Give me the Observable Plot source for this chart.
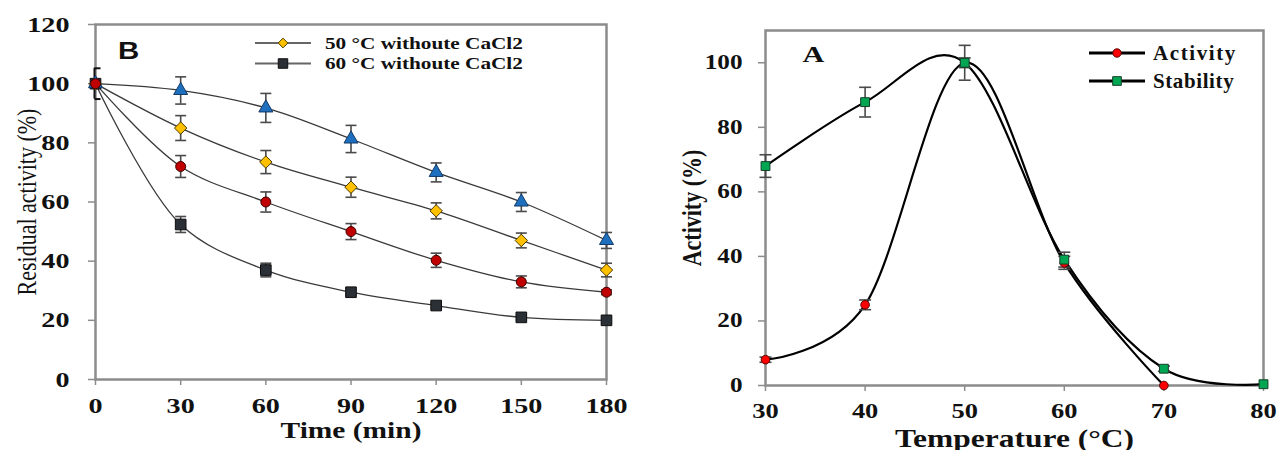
<!DOCTYPE html>
<html>
<head>
<meta charset="utf-8">
<script src="https://cdn.jsdelivr.net/npm/d3@7"></script>
<script src="https://cdn.jsdelivr.net/npm/@observablehq/plot@0.6"></script>
<style>
  html, body { margin: 0; padding: 0; background: #fff; overflow: hidden; }
  #wrap { position: relative; width: 1281px; height: 450px; }
  #left { position: absolute; left: 0; top: 0; }
  #right { position: absolute; left: 640px; top: 0; }
  #legend { position: absolute; left: 0; top: 0; pointer-events: none; }
</style>
</head>
<body>
<div id="wrap">
  <div id="left"></div>
  <div id="right"></div>
  <svg id="legend" width="1281" height="450"></svg>
</div>
<script>
// ---------- Panel B data (left) ----------
const times = [0, 30, 60, 90, 120, 150, 180];
const leftYTicks = [0, 20, 40, 60, 80, 100, 120];
const triangleVals = [100, 97.7, 91.8, 81.3, 70, 60, 47];
const triangleErr  = [5.2, 4.6, 4.9, 4.6, 3.2, 3.2, 2.7];
const diamondVals  = [100, 85, 73.5, 65, 57, 47, 37];
const diamondErr   = [0, 4.2, 3.9, 3.4, 2.7, 2.5, 2.3];
const circleVals   = [100, 72, 60, 50, 40.3, 33, 29.5];
const circleErr    = [0, 3.7, 3.4, 2.7, 2.4, 2, 0.8];
const squareVals   = [100, 52.4, 37, 29.5, 25, 21, 20];
const squareErr    = [0, 2.7, 2.3, 1, 0.8, 0.8, 0.8];
const leftLegend = ["50 °C withoute CaCl2", "60 °C withoute CaCl2"];

// ---------- Panel A data (right) ----------
const temps = [30, 40, 50, 60, 70, 80];
const rightYTicks = [0, 20, 40, 60, 80, 100];
const activityVals = [8, 25, 100, 38, 0];
const activityErr  = [0.8, 1.5, 1.5, 2, 0];
const stabilityVals = [68, 87.8, 100, 39, 5.2, 0.4];
const stabilityErr  = [3.5, 4.6, 5.4, 2.3, 0.8, 0];
const rightLegend = ["Activity", "Stability"];

const rows = (name, xs, ys, es) => ys.map((y, i) => ({series: name, x: xs[i], y, e: es[i]}));

const L = {
  square: rows("square", times, squareVals, squareErr),
  diamond: rows("diamond", times, diamondVals, diamondErr),
  triangle: rows("triangle", times, triangleVals, triangleErr),
  circle: rows("circle", times, circleVals, circleErr)
};
const R = {
  activity: rows("activity", temps, activityVals, activityErr),
  stability: rows("stability", temps, stabilityVals, stabilityErr)
};

const capSym = {draw(ctx, size) { const w = Math.sqrt(size / Math.PI); ctx.moveTo(-w, 0); ctx.lineTo(w, 0); }};
const halfCap = {draw(ctx, size) { const w = Math.sqrt(size / Math.PI); ctx.moveTo(0, 0); ctx.lineTo(w, 0); }};
const capsOf = (arr) => arr.flatMap(d => [{x: d.x, y: d.y + d.e}, {x: d.x, y: d.y - d.e}]);

const serif = "Liberation Serif, Times New Roman, serif";
const gray = "#8c8c8c";
const errC = "#4a4a4a";

// ----- Left plot -----
const allL = Object.values(L).flat();
const errL = allL.filter(d => d.e > 0 && d.x > 0);
const bracket = L.triangle.filter(d => d.x === 0);

const left = Plot.plot({
  width: 640, height: 450,
  marginLeft: 95, marginRight: 34, marginTop: 24, marginBottom: 71,
  x: {domain: [0, 180]},
  y: {domain: [0, 120]},
  style: {background: "transparent", overflow: "visible"},
  marks: [
    Plot.frame({stroke: gray, strokeWidth: 2.5}),
    Plot.axisY({ticks: leftYTicks, tickSize: 7, tickPadding: 19, stroke: gray, strokeWidth: 1.5,
      fill: "#111", fontSize: 22, fontWeight: "bold", fontFamily: serif, label: null}),
    Plot.axisX({ticks: times, tickSize: 6, tickPadding: 12, stroke: gray, strokeWidth: 1.5,
      fill: "#111", fontSize: 22, fontWeight: "bold", fontFamily: serif, label: null}),
    Plot.line(allL, {x: "x", y: "y", z: "series", curve: "catmull-rom", stroke: "#3a3a3a", strokeWidth: 1.3}),
    Plot.ruleX(errL, {x: "x", y1: d => d.y - d.e, y2: d => d.y + d.e, stroke: errC, strokeWidth: 1.6}),
    Plot.dot(capsOf(errL), {x: "x", y: "y", symbol: capSym, r: 5.5, fill: "none", stroke: errC, strokeWidth: 1.6}),
    Plot.ruleX(bracket, {x: "x", y1: d => d.y - d.e, y2: d => d.y + d.e, stroke: "#111", strokeWidth: 2, dx: -1}),
    Plot.dot(capsOf(bracket), {x: "x", y: "y", symbol: halfCap, r: 6, fill: "none", stroke: "#111", strokeWidth: 2, dx: -1}),
    Plot.dot(L.square, {x: "x", y: "y", symbol: "square", r: 6, fill: "#2b2f36", stroke: "#0d0d0d", strokeWidth: 1}),
    Plot.dot(L.diamond, {x: "x", y: "y", symbol: "diamond2", r: 5.6, fill: "#ffc000", stroke: "#4a3b00", strokeWidth: 1}),
    Plot.dot(L.triangle, {x: "x", y: "y", symbol: "triangle", r: 5.2, fill: "#1f6fbf", stroke: "#143a66", strokeWidth: 1}),
    Plot.dot(L.circle, {x: "x", y: "y", symbol: "circle", r: 5, fill: "#c00000", stroke: "#3d0000", strokeWidth: 1}),
    Plot.text(["Residual activity (%)"], {frameAnchor: "left", dx: -69, rotate: -90, textAnchor: "middle", lineAnchor: "middle",
      fontFamily: serif, fontSize: 22, fill: "#111"}),
    Plot.text(["Time (min)"], {frameAnchor: "bottom", dy: 51, textAnchor: "middle", lineAnchor: "middle",
      fontFamily: serif, fontSize: 23, fontWeight: "bold", fill: "#111"}),
    Plot.text(["B"], {frameAnchor: "top-left", dx: 33, dy: 27, textAnchor: "middle", lineAnchor: "middle",
      fontFamily: "Liberation Sans, Arial, sans-serif", fontSize: 23, fontWeight: "bold", fill: "#111"})
  ]
});

// ----- Right plot -----
const right = Plot.plot({
  width: 641, height: 450,
  marginLeft: 125, marginRight: 18, marginTop: 30, marginBottom: 65,
  x: {domain: [30, 80]},
  y: {domain: [0, 110]},
  style: {background: "transparent", overflow: "visible"},
  marks: [
    Plot.frame({stroke: gray, strokeWidth: 2.5}),
    Plot.axisY({ticks: rightYTicks, tickSize: 7, tickPadding: 16, stroke: gray, strokeWidth: 1.5,
      fill: "#111", fontSize: 20, fontWeight: "bold", fontFamily: serif, label: null}),
    Plot.axisX({ticks: temps, tickSize: 6, tickPadding: 12, stroke: gray, strokeWidth: 1.5,
      fill: "#111", fontSize: 21, fontWeight: "bold", fontFamily: serif, label: null}),
    Plot.line(R.activity, {x: "x", y: "y", curve: "cardinal", stroke: "#000", strokeWidth: 2.2}),
    Plot.line(R.stability, {x: "x", y: "y", curve: "cardinal", stroke: "#000", strokeWidth: 2.2}),
    Plot.ruleX([...R.activity, ...R.stability].filter(d => d.e > 0.5), {x: "x", y1: d => d.y - d.e, y2: d => d.y + d.e, stroke: errC, strokeWidth: 1.6}),
    Plot.dot(capsOf([...R.activity, ...R.stability].filter(d => d.e > 0.5)), {x: "x", y: "y", symbol: capSym, r: 6, fill: "none", stroke: errC, strokeWidth: 1.6}),
    Plot.dot(R.activity, {x: "x", y: "y", symbol: "circle", r: 4.3, fill: "#ff0000", stroke: "#5a0000", strokeWidth: 1}),
    Plot.dot(R.stability, {x: "x", y: "y", symbol: "square", r: 5, fill: "#00a651", stroke: "#16402a", strokeWidth: 1}),
    Plot.text(["Activity (%)"], {frameAnchor: "left", dx: -73, rotate: -90, textAnchor: "middle", lineAnchor: "middle",
      fontFamily: serif, fontSize: 22, fontWeight: "bold", fill: "#111"}),
    Plot.text(["Temperature (°C)"], {frameAnchor: "bottom", dy: 53, textAnchor: "middle", lineAnchor: "middle",
      fontFamily: serif, fontSize: 25, fontWeight: "bold", fill: "#111"}),
    Plot.text(["A"], {frameAnchor: "top-left", dx: 48, dy: 24, textAnchor: "middle", lineAnchor: "middle",
      fontFamily: serif, fontSize: 24, fontWeight: "bold", fill: "#111"})
  ]
});

// horizontal stretch of texts (the source image is stretched horizontally)
function stretchText(svg, sx) {
  svg.querySelectorAll("text").forEach(t => {
    const tr = t.getAttribute("transform") || "";
    const rotated = /rotate/.test(tr);
    t.setAttribute("transform", tr + (rotated ? ` scale(1,${sx})` : ` scale(${sx},1)`));
  });
}
stretchText(left, 1.28);
stretchText(right, 1.26);

document.getElementById("left").appendChild(left);
document.getElementById("right").appendChild(right);

// ----- Legends (overlay) -----
const lg = d3.select("#legend");
function legendRow(g, {x1, x2, y, lineColor, lineWidth, symbol, size, fill, stroke, text, tx, fontSize, sx, spacing}) {
  g.append("line").attr("x1", x1).attr("x2", x2).attr("y1", y).attr("y2", y)
    .attr("stroke", lineColor).attr("stroke-width", lineWidth);
  g.append("path").attr("d", d3.symbol(symbol, size)())
    .attr("transform", `translate(${(x1 + x2) / 2},${y})`)
    .attr("fill", fill).attr("stroke", stroke).attr("stroke-width", 1);
  g.append("text").text(text)
    .attr("transform", `translate(${tx},${y}) scale(${sx},1)`)
    .attr("dy", "0.34em")
    .attr("font-family", serif).attr("font-weight", "bold").attr("font-size", fontSize)
    .attr("letter-spacing", spacing).attr("fill", "#111");
}
legendRow(lg, {x1: 255, x2: 311, y: 43, lineColor: "#666", lineWidth: 2, symbol: d3.symbolDiamond2, size: 60,
  fill: "#ffc000", stroke: "#4a3b00", text: leftLegend[0], tx: 325, fontSize: 17, sx: 1.25, spacing: 0});
legendRow(lg, {x1: 255, x2: 311, y: 63.5, lineColor: "#666", lineWidth: 2, symbol: d3.symbolSquare, size: 90,
  fill: "#2b2f36", stroke: "#0d0d0d", text: leftLegend[1], tx: 325, fontSize: 17, sx: 1.25, spacing: 0});
legendRow(lg, {x1: 1089, x2: 1145, y: 53, lineColor: "#000", lineWidth: 3, symbol: d3.symbolCircle, size: 55,
  fill: "#ff0000", stroke: "#5a0000", text: rightLegend[0], tx: 1153, fontSize: 21, sx: 1, spacing: 1.6});
legendRow(lg, {x1: 1089, x2: 1145, y: 81, lineColor: "#000", lineWidth: 3, symbol: d3.symbolSquare, size: 75,
  fill: "#00a651", stroke: "#16402a", text: rightLegend[1], tx: 1153, fontSize: 21, sx: 1, spacing: 0.6});
</script>
</body>
</html>
